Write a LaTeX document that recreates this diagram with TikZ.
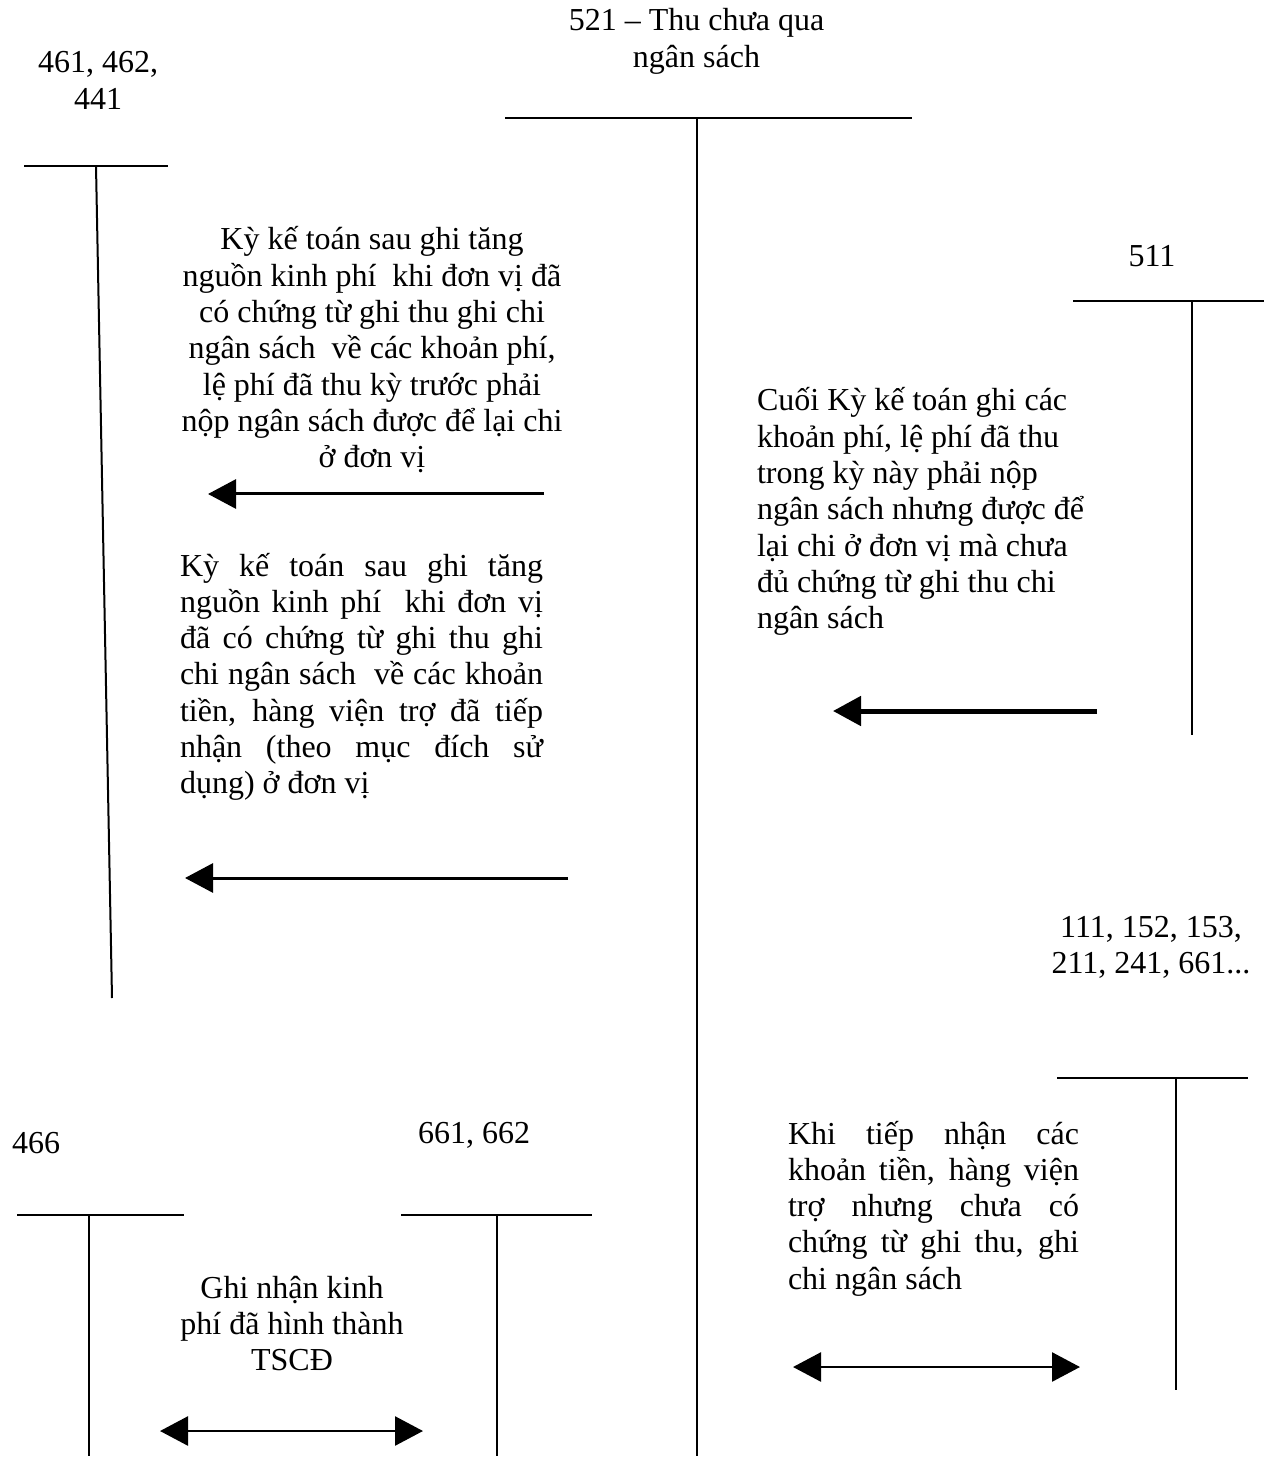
\documentclass[tikz,border=0pt]{standalone}
\usepackage{fontspec}
\setmainfont{Liberation Serif}
\usetikzlibrary{arrows.meta}
\begin{document}
\begin{tikzpicture}[x=0.5pt,y=-0.5pt,
  tacc/.style={line width=1pt},
  txt/.style={inner sep=0pt,outer sep=0pt,font=\fontsize{16pt}{18.15pt}\selectfont},
  arrthin/.style={line width=1.5pt,-{Triangle[length=14pt,width=14.5pt]}},
  arrthick/.style={line width=2.5pt,-{Triangle[length=14pt,width=14.5pt]}},
  arrboth/.style={line width=1.3pt,{Triangle[length=14pt,width=14.5pt]}-{Triangle[length=14pt,width=14.5pt]}}]
\useasboundingbox (0,0) rectangle (1268,1459);

% ---- T-account 461, 462, 441
\node[txt,anchor=base] (l461) at (98,73) {\parbox[t]{100pt}{\centering 461, 462,\\ 441}};
\coordinate (a1l) at (24,166); \coordinate (a1r) at (168,166);
\coordinate (a1t) at (96,166); \coordinate (a1b) at (112,998);
\draw[tacc] (a1l) -- (a1r);
\draw[tacc] (a1t) -- (a1b);

% ---- T-account 521
\node[txt,anchor=base] (l521) at (696.5,31) {\parbox[t]{200pt}{\centering 521 – Thu chưa qua\\ ngân sách}};
\coordinate (a2l) at (505,118); \coordinate (a2r) at (912,118);
\coordinate (a2t) at (697,118); \coordinate (a2b) at (697,1456);
\draw[tacc] (a2l) -- (a2r);
\draw[tacc] (a2t) -- (a2b);

% ---- T-account 511
\node[txt,anchor=base] (l511) at (1152,267) {511};
\coordinate (a3l) at (1073,301); \coordinate (a3r) at (1264,301);
\coordinate (a3t) at (1192,301); \coordinate (a3b) at (1192,735);
\draw[tacc] (a3l) -- (a3r);
\draw[tacc] (a3t) -- (a3b);

% ---- T-account 111, 152, ...
\node[txt,anchor=base] (l111) at (1151,937) {\parbox[t]{120pt}{\centering 111, 152, 153,\\ 211, 241, 661...}};
\coordinate (a4l) at (1057,1078); \coordinate (a4r) at (1248,1078);
\coordinate (a4t) at (1176,1078); \coordinate (a4b) at (1176,1390);
\draw[tacc] (a4l) -- (a4r);
\draw[tacc] (a4t) -- (a4b);

% ---- T-account 466
\node[txt,anchor=base west] (l466) at (12,1153) {466};
\coordinate (a5l) at (17,1215); \coordinate (a5r) at (184,1215);
\coordinate (a5t) at (89,1215); \coordinate (a5b) at (89,1456);
\draw[tacc] (a5l) -- (a5r);
\draw[tacc] (a5t) -- (a5b);

% ---- T-account 661, 662
\node[txt,anchor=base] (l661) at (474,1143) {661, 662};
\coordinate (a6l) at (401,1215); \coordinate (a6r) at (592,1215);
\coordinate (a6t) at (497,1215); \coordinate (a6b) at (497,1456);
\draw[tacc] (a6l) -- (a6r);
\draw[tacc] (a6t) -- (a6b);

% ---- Text A
\node[txt,anchor=base] (tA) at (372,250) {\parbox[t]{195pt}{\centering
Kỳ kế toán sau ghi tăng\\
nguồn kinh phí\ \ khi đơn vị đã\\
có chứng từ ghi thu ghi chi\\
ngân sách\ \ về các khoản phí,\\
lệ phí đã thu kỳ trước phải\\
nộp ngân sách được để lại chi\\
ở đơn vị}};

% ---- Text B
\node[txt,anchor=base west] (tB) at (180,576) {\parbox[t]{181.5pt}{%
\makebox[\linewidth][s]{Kỳ kế toán sau ghi tăng}\\
\makebox[\linewidth][s]{nguồn kinh phí\ \ khi đơn vị}\\
\makebox[\linewidth][s]{đã có chứng từ ghi thu ghi}\\
\makebox[\linewidth][s]{chi ngân sách\ \ về các khoản}\\
\makebox[\linewidth][s]{tiền, hàng viện trợ đã tiếp}\\
\makebox[\linewidth][s]{nhận (theo mục đích sử}\\
dụng) ở đơn vị}};

% ---- Text C
\node[txt,anchor=base west] (tC) at (757,411) {\parbox[t]{175pt}{\raggedright
Cuối Kỳ kế toán ghi các\\
khoản phí, lệ phí đã thu\\
trong kỳ này phải nộp\\
ngân sách nhưng được để\\
lại chi ở đơn vị mà chưa\\
đủ chứng từ ghi thu chi\\
ngân sách}};

% ---- Text D
\node[txt,anchor=base west] (tD) at (788,1144) {\parbox[t]{145.5pt}{%
\makebox[\linewidth][s]{Khi tiếp nhận các}\\
\makebox[\linewidth][s]{khoản tiền, hàng viện}\\
\makebox[\linewidth][s]{trợ nhưng chưa có}\\
\makebox[\linewidth][s]{chứng từ ghi thu, ghi}\\
chi ngân sách}};

% ---- Text E
\node[txt,anchor=base] (tE) at (292,1298) {\parbox[t]{140pt}{\centering
Ghi nhận kinh\\
phí đã hình thành\\
TSCĐ}};

% ---- Arrows
\coordinate (r1s) at (544,494); \coordinate (r1e) at (208,494);
\draw[arrthin] (r1s) -- (r1e);
\coordinate (r2s) at (568,878); \coordinate (r2e) at (185,878);
\draw[arrthin] (r2s) -- (r2e);
\coordinate (r3s) at (1097,711); \coordinate (r3e) at (833,711);
\draw[arrthick] (r3s) -- (r3e);
\coordinate (r4s) at (160,1431); \coordinate (r4e) at (423,1431);
\draw[arrboth] (r4s) -- (r4e);
\coordinate (r5s) at (793,1367); \coordinate (r5e) at (1080,1367);
\draw[arrboth] (r5s) -- (r5e);
\end{tikzpicture}
\end{document}
